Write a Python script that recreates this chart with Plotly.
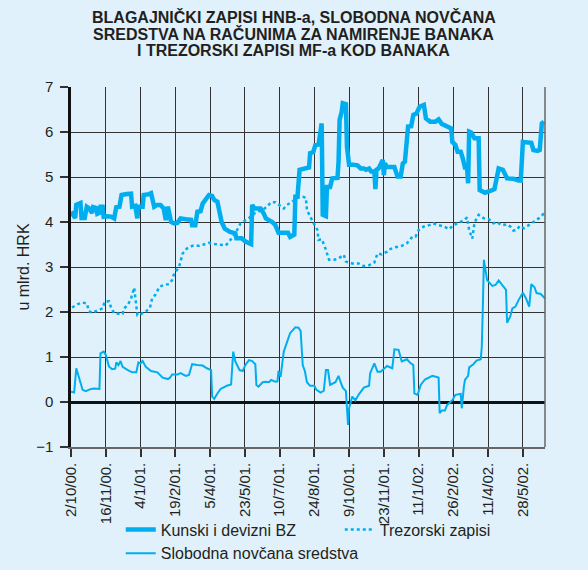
import plotly.graph_objects as go

# x = business-day index from 2/10/2000 (ticks every 33 days)
tick_vals = [0, 33, 66, 99, 132, 165, 198, 231, 264, 297, 330, 363, 396, 429]
tick_text = ["2/10/00.", "16/11/00.", "4/1/01.", "19/2/01.", "5/4/01.", "23/5/01.",
             "10/7/01.", "24/8/01.", "9/10/01.", "23/11/01.", "11/1/02.", "26/2/02.",
             "11/4/02.", "28/5/02."]

title_lines = ["BLAGAJNIČKI ZAPISI HNB-a, SLOBODNA NOVČANA",
               "SREDSTVA NA RAČUNIMA ZA NAMIRENJE BANAKA",
               "I TREZORSKI ZAPISI MF-a KOD BANAKA"]

bz_x = [0, 4, 5, 9, 10, 13, 15, 17, 20, 21, 24, 25, 27, 28, 30, 31, 34, 38, 41, 43, 46, 48, 53, 57,
        58, 61, 63, 64, 68, 69, 74, 76, 79, 82, 85, 88, 90, 92, 95, 98, 101, 104, 109, 114, 115, 118,
        120, 123, 125, 128, 131, 134, 136, 139, 141, 143, 146, 151, 156, 157, 162, 166, 171, 172, 174,
        180, 183, 185, 191, 194, 197, 200, 204, 206, 208, 212, 213, 215, 217, 221, 226, 227, 230, 232,
        235, 238, 239, 242, 243, 246, 248, 253, 254, 255, 257, 258, 261, 262, 264, 268, 272, 275, 278,
        280, 283, 285, 288, 289, 290, 292, 295, 296, 297, 298, 300, 303, 307, 310, 313, 315, 317, 320,
        323, 325, 328, 331, 335, 337, 341, 346, 349, 352, 357, 361, 362, 365, 367, 370, 372, 374, 376,
        377, 378, 380, 383, 387, 388, 393, 398, 402, 406, 410, 414, 420, 425, 427, 429, 434, 437, 439,
        443, 445, 447, 449]
bz_y = [4.23, 4.09, 4.38, 4.42, 4.09, 4.09, 4.34, 4.31, 4.20, 4.33, 4.31, 4.18, 4.20, 4.34, 4.34, 4.12,
        4.13, 4.12, 4.08, 4.33, 4.34, 4.60, 4.62, 4.63, 4.34, 4.36, 4.08, 4.34, 4.34, 4.60, 4.62, 4.64,
        4.34, 4.38, 4.38, 4.30, 4.04, 4.34, 4.00, 3.97, 3.98, 4.08, 4.06, 4.05, 3.93, 3.93, 4.23, 4.24,
        4.41, 4.49, 4.60, 4.58, 4.49, 4.45, 4.16, 4.00, 3.85, 3.78, 3.75, 3.64, 3.64, 3.56, 3.51, 4.38,
        4.30, 4.30, 4.19, 4.08, 4.00, 3.93, 3.76, 3.76, 3.78, 3.76, 3.67, 3.72, 4.56, 4.56, 5.16, 5.19,
        5.21, 5.53, 5.55, 5.71, 5.72, 6.19, 4.16, 4.13, 4.78, 4.78, 4.97, 4.98, 5.34, 6.27, 6.45, 6.64,
        6.62, 5.67, 5.27, 5.27, 5.26, 5.19, 5.19, 5.16, 5.19, 5.12, 5.12, 4.73, 5.16, 5.19, 5.38, 5.38,
        5.04, 5.30, 5.22, 5.23, 5.22, 5.01, 5.01, 5.30, 5.34, 6.12, 6.13, 6.38, 6.41, 6.56, 6.60, 6.30,
        6.23, 6.23, 6.28, 6.18, 6.13, 6.08, 5.78, 5.71, 5.56, 5.56, 5.41, 5.21, 5.21, 4.86, 6.01, 5.99,
        5.86, 5.86, 4.71, 4.65, 4.69, 4.73, 5.19, 5.16, 4.97, 4.96, 4.92, 4.92, 5.78, 5.78, 5.76, 5.60,
        5.58, 5.60, 6.19, 6.23]

tz_x = [1, 6, 11, 15, 17, 20, 25, 30, 32, 36, 38, 41, 46, 49, 50, 54, 57, 60, 61, 63, 66, 71, 75, 77,
        80, 84, 88, 93, 96, 98, 101, 103, 106, 110, 115, 122, 126, 131, 136, 141, 144, 147, 150, 156,
        161, 166, 171, 175, 182, 186, 190, 194, 197, 202, 205, 210, 215, 220, 223, 224, 227, 231, 234,
        235, 238, 241, 245, 250, 254, 259, 261, 267, 273, 278, 283, 288, 291, 295, 300, 302, 308, 314,
        319, 324, 327, 330, 335, 340, 344, 349, 354, 359, 363, 368, 373, 376, 378, 381, 383, 385, 387,
        392, 397, 401, 404, 409, 414, 417, 420, 423, 426, 430, 435, 439, 444, 449]
tz_y = [2.10, 2.17, 2.21, 2.19, 2.02, 1.98, 2.03, 2.08, 2.23, 2.24, 2.10, 1.97, 1.96, 1.96, 2.07, 2.16,
        2.30, 2.54, 2.34, 1.93, 1.95, 2.01, 2.10, 2.30, 2.38, 2.56, 2.60, 2.62, 2.71, 2.86, 2.95, 3.04,
        3.30, 3.41, 3.47, 3.47, 3.50, 3.54, 3.51, 3.49, 3.49, 3.48, 3.56, 3.75, 3.97, 4.04, 4.12, 4.21,
        4.27, 4.34, 4.44, 4.44, 4.38, 4.30, 4.38, 4.45, 4.55, 4.56, 4.54, 4.27, 4.12, 3.93, 3.82, 3.60,
        3.62, 3.45, 3.16, 3.16, 3.19, 3.27, 3.12, 3.08, 3.08, 3.02, 3.04, 3.10, 3.30, 3.28, 3.34, 3.39,
        3.44, 3.47, 3.53, 3.67, 3.67, 3.82, 3.90, 3.93, 3.97, 3.93, 3.90, 3.84, 3.93, 3.98, 4.04, 4.10,
        3.82, 3.63, 3.97, 4.08, 4.16, 4.08, 4.06, 3.97, 4.00, 3.93, 3.95, 3.90, 3.81, 3.82, 3.91, 3.86,
        3.93, 4.00, 4.08, 4.19]

sn_x = [0, 3, 5, 8, 11, 14, 19, 22, 27, 28, 31, 33, 36, 39, 42, 43, 45, 47, 49, 54, 58, 62, 64, 66,
        68, 71, 76, 82, 87, 92, 94, 96, 101, 104, 109, 112, 115, 120, 125, 129, 133, 134, 136, 139, 142,
        148, 152, 154, 156, 160, 163, 166, 169, 172, 175, 176, 178, 182, 185, 188, 190, 194, 196, 197,
        199, 202, 205, 208, 213, 216, 218, 220, 222, 224, 227, 231, 233, 237, 240, 242, 244, 246, 251,
        254, 256, 258, 261, 263, 264, 267, 270, 273, 278, 283, 284, 288, 291, 294, 299, 300, 305, 307,
        311, 314, 319, 322, 325, 326, 329, 332, 336, 343, 348, 349, 350, 352, 355, 357, 362, 365, 370,
        371, 373, 374, 377, 378, 382, 385, 389, 390, 391, 392, 395, 400, 403, 406, 410, 413, 414, 417,
        419, 422, 425, 429, 432, 435, 437, 440, 442, 446, 450]
sn_y = [0.23, 0.21, 0.75, 0.49, 0.27, 0.24, 0.29, 0.30, 0.29, 1.08, 1.12, 1.05, 0.79, 0.73, 0.74, 0.88,
        0.82, 0.91, 0.78, 0.71, 0.66, 0.66, 0.88, 0.86, 0.91, 0.78, 0.69, 0.66, 0.54, 0.51, 0.54, 0.61,
        0.61, 0.64, 0.58, 0.60, 0.84, 0.82, 0.81, 0.75, 0.71, 0.12, 0.07, 0.19, 0.29, 0.36, 0.39, 1.12,
        0.90, 0.71, 0.69, 0.84, 0.93, 0.91, 0.84, 0.38, 0.34, 0.44, 0.45, 0.44, 0.49, 0.45, 0.46, 0.69,
        0.56, 1.12, 1.34, 1.53, 1.66, 1.65, 1.58, 0.82, 0.69, 0.44, 0.36, 0.36, 0.27, 0.21, 0.25, 0.71,
        0.71, 0.38, 0.44, 0.58, 0.44, 0.32, 0.24, -0.51, -0.14, 0.12, 0.04, 0.16, 0.32, 0.36, 0.64, 0.86,
        0.67, 0.67, 0.78, 0.80, 0.75, 1.17, 1.16, 0.90, 0.95, 0.87, 0.82, 0.19, 0.16, 0.38, 0.50, 0.58,
        0.55, 0.54, -0.25, -0.19, -0.19, -0.07, 0.04, 0.16, 0.18, -0.14, 0.34, 0.49, 0.58, 0.77, 0.84,
        0.92, 0.95, 1.23, 2.12, 3.16, 2.71, 2.58, 2.60, 2.70, 2.58, 2.49, 1.76, 1.90, 2.08, 2.12, 2.27,
        2.43, 2.30, 2.12, 2.62, 2.55, 2.42, 2.40, 2.30]

BLUE = "#00aeef"
FONT = "Liberation Sans Narrow, Arial Narrow, Liberation Sans, Arial, sans-serif"
BG = "#e0f1fb"
TXT = "#231f20"

fig = go.Figure()
fig.add_trace(go.Scatter(x=bz_x, y=bz_y, mode="lines", name="Kunski i devizni BZ",
                         line=dict(color=BLUE, width=4.5)))
fig.add_trace(go.Scatter(x=tz_x, y=tz_y, mode="lines", name="Trezorski zapisi",
                         line=dict(color=BLUE, width=2.5, dash="dot")))
fig.add_trace(go.Scatter(x=sn_x, y=sn_y, mode="lines", name="Slobodna novčana sredstva",
                         line=dict(color=BLUE, width=2)))

title_y = [1.194, 1.147, 1.100]
annotations = [dict(text=f"<b>{t}</b>", xref="paper", yref="paper", x=0.47, y=yy,
                    xanchor="center", yanchor="middle", showarrow=False,
                    font=dict(family=FONT, size=16, color=TXT))
               for t, yy in zip(title_lines, title_y)]

fig.update_layout(
    width=588, height=570,
    paper_bgcolor=BG, plot_bgcolor=BG,
    margin=dict(l=70.5, r=43, t=87, b=122.5, autoexpand=False),
    font=dict(family=FONT, size=15, color=TXT),
    annotations=annotations,
    showlegend=True,
    legend=dict(orientation="h", x=0.105, xanchor="left", y=-0.182, yanchor="top",
                entrywidth=174, font=dict(size=16), bgcolor="rgba(0,0,0,0)",
                traceorder="normal"),
    xaxis=dict(range=[0, 450], tickmode="array", tickvals=tick_vals, ticktext=tick_text,
               tickangle=-90, ticks="outside", ticklen=8, tickwidth=1.5, tickcolor="#333",
               showgrid=True, gridcolor="#333333", gridwidth=1.4, automargin=False,
               showline=True, linecolor="#666", linewidth=1.5, mirror=False,
               zeroline=False, tickfont=dict(size=15)),
    yaxis=dict(range=[-1, 7], dtick=1, ticks="outside", ticklen=8, tickwidth=1.5, tickcolor="#333",
               showgrid=True, gridcolor="#333333", gridwidth=1.4, automargin=False,
               showline=True, linecolor="#111", linewidth=2.5,
               zeroline=True, zerolinecolor="#111", zerolinewidth=2.5,
               tickfont=dict(size=15), ticklabelstandoff=4,
               title=dict(text="u mlrd. HRK", font=dict(size=16), standoff=3)),
    shapes=[dict(type="line", xref="paper", yref="paper", x0=1, x1=1, y0=0, y1=1,
                 line=dict(color="#666", width=1.5))],
)

fig.write_html("out.html", config={"displayModeBar": False},
               post_script="document.body.style.margin='0';document.body.style.background='" + BG + "';")
